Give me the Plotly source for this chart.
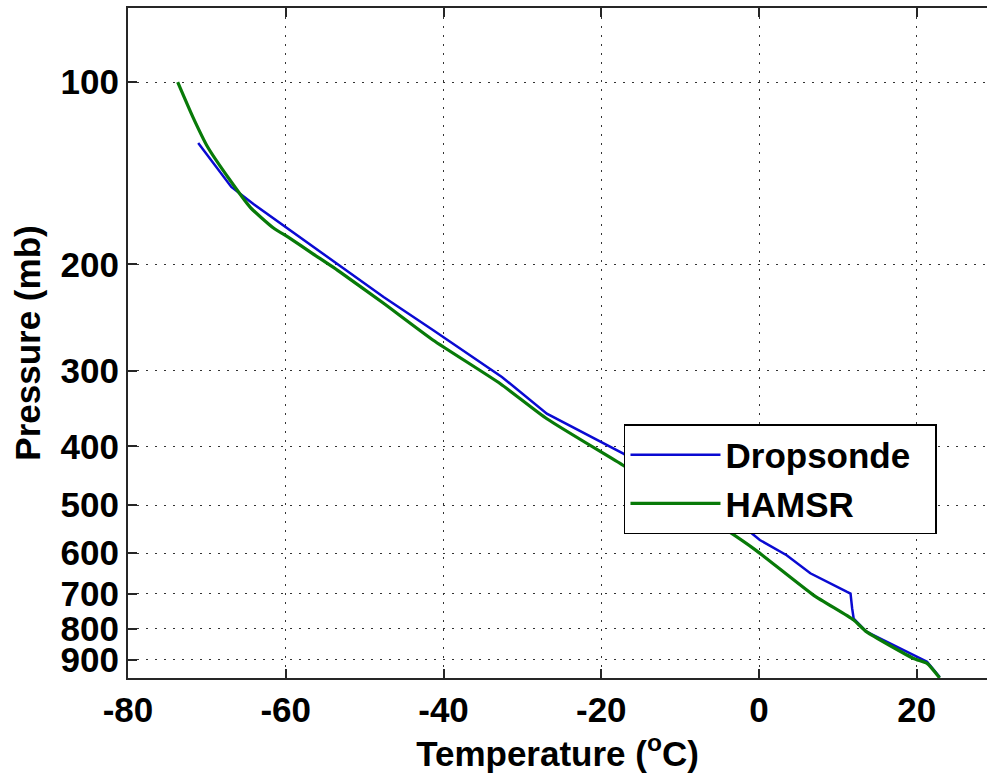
import plotly.graph_objects as go

# Dropsonde profile (temperature in deg C, pressure in mb)
dropsonde_temp = [-71.1, -68.8, -66.9, -64.1, -60.3, -58.2, -55.2, -53.1, -47.6, -41.3,
                  -32.6, -26.9, -17.2, -1.4, 0.1, 3.5, 6.5, 11.1, 11.6, 11.8, 12.0,
                  13.6, 19.6, 21.3, 22.9]
dropsonde_pres = [126, 138, 149, 159, 172.5, 180.5, 192, 201, 226.5, 257,
                  307, 353, 411, 550, 571, 605, 648, 695, 700, 740, 770,
                  809, 884, 907, 962]

# HAMSR retrieval
hamsr_temp = [-73.7, -71.8, -69.9, -67.1, -64.5, -61.6, -59.5, -56.6, -53.1, -47.6,
              -41.3, -32.8, -26.9, -17.2, -4.1, -0.3, 6.9, 12.0, 13.6, 19.6, 21.3, 22.9]
hamsr_pres = [100, 114, 128, 145, 161, 174, 181, 192, 206, 232,
              267, 315, 360, 430, 550, 595, 704, 774, 809, 896, 913, 965]

x_ticks = [-80, -60, -40, -20, 0, 20]
y_ticks = [100, 200, 300, 400, 500, 600, 700, 800, 900]

FONT = dict(family='Liberation Sans, Arial, sans-serif', size=35, color='black', weight='bold')

fig = go.Figure()
# trailing nbsp widens the legend box a little, like the matlab one
fig.add_trace(go.Scatter(x=dropsonde_temp, y=dropsonde_pres, name='Dropsonde\u00a0\u00a0',
                         mode='lines', line=dict(color='#0a0ad2', width=2.5)))
fig.add_trace(go.Scatter(x=hamsr_temp, y=hamsr_pres, name='HAMSR',
                         mode='lines', line=dict(color='#087a08', width=3.2,
                                                 shape='spline', smoothing=0.5)))

axis_common = dict(
    showline=True, linecolor='#262626', linewidth=2,
    ticks='inside', ticklen=9, tickwidth=2, tickcolor='#262626',
    showgrid=True, gridcolor='#333333', gridwidth=1, griddash='2px,7px',
    zeroline=False, tickfont=FONT, ticklabelstandoff=0, automargin=True,
)

# matlab-style hyphen minus on the tick labels
fig.update_xaxes(axis_common, range=[-80, 28.9], tickvals=x_ticks,
                 ticktext=[str(v) for v in x_ticks], mirror='allticks',
                 title=dict(text='Temperature (<sup>o</sup>C)', font=FONT, standoff=0))
fig.update_yaxes(axis_common, type='log', range=[2.9846, 1.8775], tickvals=y_ticks,
                 ticktext=[str(v) for v in y_ticks], mirror=False,
                 title=dict(text='Pressure (mb)', font=FONT, standoff=9))

fig.update_layout(
    width=987, height=780,
    margin=dict(l=128, r=0, t=8, b=102, autoexpand=False),
    plot_bgcolor='white', paper_bgcolor='white',
    showlegend=True,
    legend=dict(x=0.5774, y=0.379, xanchor='left', yanchor='top',
                bgcolor='white', bordercolor='black', borderwidth=1.5,
                font=FONT, itemwidth=90),
)

fig.write_html("out.html", config={'displayModeBar': False},
               post_script="document.body.style.margin='0';")
